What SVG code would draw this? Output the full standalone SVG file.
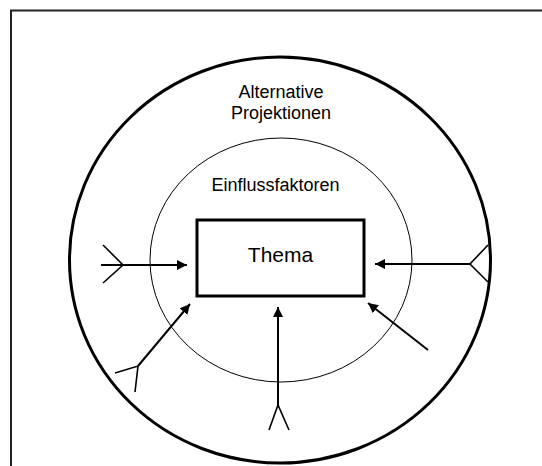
<svg xmlns="http://www.w3.org/2000/svg" width="542" height="466" viewBox="0 0 542 466">
<defs>
<marker id="ah" viewBox="0 0 10 10" refX="10" refY="5" markerWidth="5" markerHeight="5" markerUnits="strokeWidth" orient="auto">
<path d="M0,0 L10,5 L0,10 z" fill="#000"/>
</marker>
<style>
.lbl{font-family:"Liberation Sans",Arial,sans-serif;font-size:18px;fill:#000;text-anchor:middle}
.conn{stroke:#000;stroke-width:2;fill:none}
.fork{stroke:#000;stroke-width:1.6;fill:none}
</style>
</defs>
<rect width="542" height="466" fill="#fff"/>
<path d="M11,466 V10.5 H542" fill="none" stroke="#222" stroke-width="2"/>
<g id="outer">
<ellipse cx="280" cy="260" rx="210.5" ry="203" fill="none" stroke="#000" stroke-width="3"/>
<text class="lbl" x="281" y="98">Alternative</text>
<text class="lbl" x="281" y="119">Projektionen</text>
</g>
<g id="inner">
<ellipse cx="281" cy="260" rx="131" ry="122" fill="none" stroke="#000" stroke-width="1"/>
<text class="lbl" x="275.5" y="190.5">Einflussfaktoren</text>
</g>
<g id="thema">
<rect x="197" y="220" width="167" height="76" fill="#fff" stroke="#000" stroke-width="3"/>
<text class="lbl" x="280.5" y="262" style="font-size:21px">Thema</text>
</g>
<g id="connectors">
<line class="conn" x1="101" y1="265" x2="187" y2="265" marker-end="url(#ah)"/>
<path class="fork" d="M103,245 L123,265 L103,283"/>
<line class="conn" x1="470" y1="264" x2="375" y2="264" marker-end="url(#ah)"/>
<path class="fork" d="M488,245 L470,264 L488,282"/>
<line class="conn" x1="138" y1="366" x2="190" y2="304" marker-end="url(#ah)"/>
<path class="fork" d="M115,373 L138,366 L135,392"/>
<line class="conn" x1="278" y1="405" x2="278" y2="307" marker-end="url(#ah)"/>
<path class="fork" d="M269,430 L278,405 L289,430"/>
<line class="conn" x1="428" y1="350" x2="368" y2="303" marker-end="url(#ah)"/>
</g>
</svg>
